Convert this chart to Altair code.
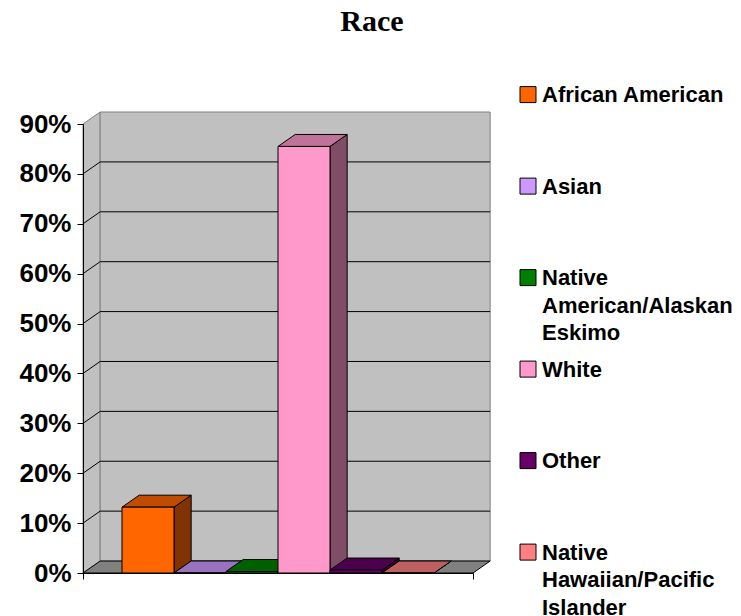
import altair as alt
import pandas as pd

# Series shown as a single cluster of 3-D columns
CATEGORIES = [
    "African American",
    "Asian",
    "Native\nAmerican/Alaskan\nEskimo",
    "White",
    "Other",
    "Native\nHawaiian/Pacific\nIslander",
]
SHARES = [0.132, 0.0, 0.003, 0.855, 0.006, 0.0]
COLORS = ["#FF6600", "#CC99FF", "#008000", "#FF99CC", "#660066", "#FF8080"]
TICKS = [0.0, 0.1, 0.2, 0.3, 0.4, 0.5, 0.6, 0.7, 0.8, 0.9]

# Axis extents (data units) and the receding depth of the 3-D box
X_LO, X_HI = -0.75, 6.75
Y_TOP = 0.9
DX = 0.33
DY = 0.024

FONT = "Liberation Sans"


def shade(hex_color, factor):
    r, g, b = (int(hex_color[i:i + 2], 16) for i in (1, 3, 5))
    return "#%02X%02X%02X" % tuple(round(v * factor) for v in (r, g, b))


TOP_COLORS = [shade(c, 0.75) for c in COLORS]
SIDE_COLORS = [shade(c, 0.5) for c in COLORS]

# --- tables built from the lists above ---
bars = pd.DataFrame({
    "series": CATEGORIES,
    "x": range(len(CATEGORIES)),
    "x2": [i + 1 for i in range(len(CATEGORIES))],
    "y": SHARES,
    "y2": 0.0,
})

side_rows, top_rows = [], []
for i, (name, v) in enumerate(zip(CATEGORIES, SHARES)):
    side_rows += [
        {"series": name, "x": i + 1, "y": 0.0, "y2": v},
        {"series": name, "x": i + 1 + DX, "y": DY, "y2": v + DY},
    ]
    top_rows += [
        {"series": name, "y": v, "x": i, "x2": i + 1},
        {"series": name, "y": v + DY, "x": i + DX, "x2": i + 1 + DX},
    ]
sides = pd.DataFrame(side_rows)
tops = pd.DataFrame(top_rows)

side_wall = pd.DataFrame({"x": [X_LO, X_LO + DX], "y": [0.0, DY], "y2": [Y_TOP, Y_TOP + DY]})
back_wall = pd.DataFrame({"x": [X_LO + DX], "x2": [X_HI + DX], "y": [DY], "y2": [Y_TOP + DY]})
floor = pd.DataFrame({"y": [0.0, DY], "x": [X_LO, X_LO + DX], "x2": [X_HI, X_HI + DX]})

inner_ticks = [t for t in TICKS if 0 < t < Y_TOP]
grid_back = pd.DataFrame({"x": X_LO + DX, "x2": X_HI + DX, "y": [t + DY for t in inner_ticks]})
grid_side = pd.DataFrame({"x": X_LO, "x2": X_LO + DX, "y": inner_ticks,
                          "y2": [t + DY for t in inner_ticks]})

# --- shared scales and axes (identical in every layer) ---
xs = alt.Scale(domain=[X_LO, X_HI], nice=False, zero=False)
ys = alt.Scale(domain=[0, Y_TOP], nice=False, zero=True)

x_axis = alt.Axis(values=[X_LO, X_HI], labels=False, title="", grid=False,
                  tickSize=6, tickColor="black", domainColor="black", zindex=1)
y_axis = alt.Axis(values=TICKS, format=".0%", title="", grid=False,
                  labelFont=FONT, labelFontWeight="bold", labelFontSize=26,
                  labelColor="black", labelPadding=6, tickSize=6,
                  tickColor="black", domainColor="black", zindex=1)


def X(field, **kw):
    return alt.X(field + ":Q", scale=xs, axis=x_axis, **kw)


def Y(field, **kw):
    return alt.Y(field + ":Q", scale=ys, axis=y_axis, **kw)


# --- the box: side wall, back wall, floor and gridlines ---
side_wall_layer = alt.Chart(side_wall).mark_area(
    fill="#C0C0C0", stroke="#808080", strokeWidth=1
).encode(x=X("x"), y=Y("y", stack=False), y2="y2")

back_wall_layer = alt.Chart(back_wall).mark_rect(
    fill="#C0C0C0", stroke="#808080", strokeWidth=1
).encode(x=X("x"), x2="x2", y=Y("y"), y2="y2")

floor_layer = alt.Chart(floor).mark_area(
    orient="horizontal", fill="#808080", stroke="black", strokeWidth=1
).encode(y=Y("y"), x=X("x", stack=False), x2="x2")

grid_back_layer = alt.Chart(grid_back).mark_rule(color="black", strokeWidth=1).encode(
    x=X("x"), x2="x2", y=Y("y")
)
grid_side_layer = alt.Chart(grid_side).mark_rule(color="black", strokeWidth=1).encode(
    x=X("x"), x2="x2", y=Y("y"), y2="y2"
)

# --- the columns: side faces, top faces, front faces ---
side_layer = alt.Chart(sides).mark_area(stroke="black", strokeWidth=1).encode(
    x=X("x"),
    y=Y("y", stack=False),
    y2="y2",
    color=alt.Color("series:N", scale=alt.Scale(domain=CATEGORIES, range=SIDE_COLORS),
                    legend=None),
)
top_layer = alt.Chart(tops).mark_area(orient="horizontal", stroke="black",
                                      strokeWidth=1).encode(
    y=Y("y"),
    x=X("x", stack=False),
    x2="x2",
    color=alt.Color("series:N", scale=alt.Scale(domain=CATEGORIES, range=TOP_COLORS),
                    legend=None),
)
front_layer = alt.Chart(bars).mark_rect(stroke="black", strokeWidth=1).encode(
    x=X("x"),
    x2="x2",
    y=Y("y"),
    y2="y2",
    color=alt.Color(
        "series:N",
        sort=CATEGORIES,
        scale=alt.Scale(domain=CATEGORIES, range=COLORS),
        legend=alt.Legend(
            title=None, orient="none", legendX=434, legendY=-50,
            padding=0, gridAlign="all", rowPadding=4.5,
            labelFont=FONT, labelFontWeight="bold", labelFontSize=22,
            labelColor="black", labelLimit=400, labelBaseline="top",
            labelOffset=3,
            symbolType="M-1,0.2H1V2.2H-1Z", symbolSize=256,
            symbolStrokeColor="black", symbolStrokeWidth=1,
            symbolOpacity=1,
        ),
    ),
)

chart = alt.layer(
    side_wall_layer, back_wall_layer, floor_layer, grid_back_layer, grid_side_layer,
    side_layer, top_layer, front_layer,
).resolve_scale(
    color="independent"
).properties(
    width=390,
    height=449,
    autosize=alt.AutoSizeParams(type="none"),
    padding={"left": 83, "top": 124, "right": 268, "bottom": 43},
    background="white",
    title=alt.TitleParams(
        "Race", font="Liberation Serif", fontSize=30, fontWeight="bold",
        color="black", anchor="middle", frame="group", dx=94, dy=-33,
    ),
).configure_view(
    strokeOpacity=0
).configure(
    style={"guide-label": {"lineHeight": 27.5, "lineBreak": "\n"}}
)

chart.save("out.html", embed_options={"renderer": "svg", "actions": False})
